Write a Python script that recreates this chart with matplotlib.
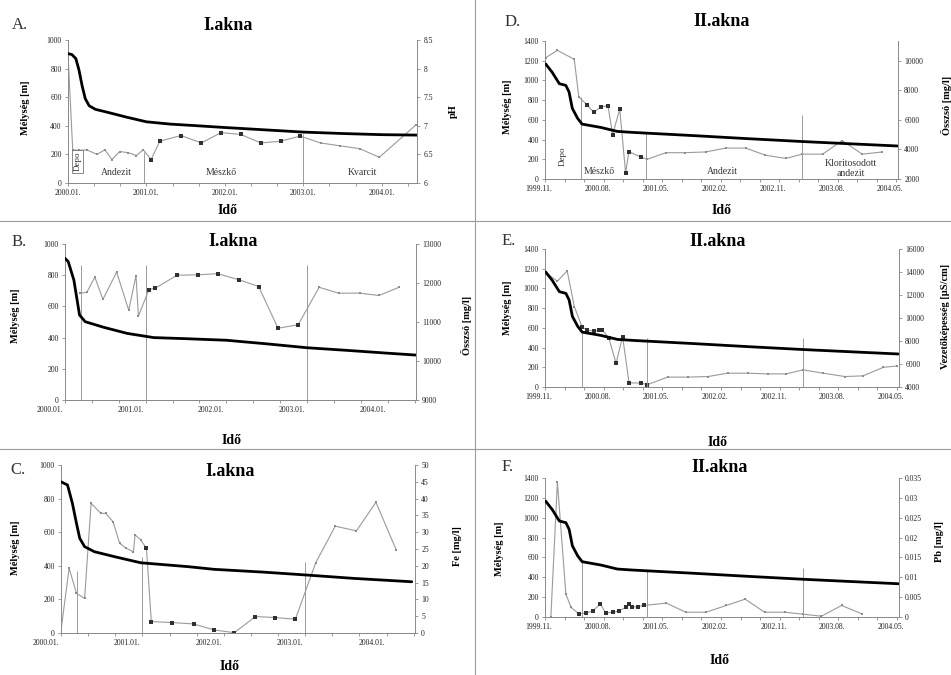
import numpy as np
import matplotlib
matplotlib.use("Agg")
import matplotlib.pyplot as plt
from matplotlib.ticker import MultipleLocator, FixedLocator, FormatStrFormatter
import matplotlib.transforms as mtrans

plt.rcParams['font.family'] = ['Liberation Serif', 'DejaVu Serif']

# ---------------- data ----------------
# I. akna (x in years)
depth_A_x = [2000.0, 2000.05, 2000.1, 2000.14, 2000.18, 2000.22, 2000.27, 2000.35, 2000.5, 2000.75,
             2001.0, 2001.3, 2001.6, 2002.0, 2002.5, 2003.0, 2003.5, 2004.0, 2004.45]
depth_A_y = [905, 898, 870, 790, 680, 590, 540, 515, 495, 460, 428, 412, 402, 388, 372, 356, 346, 338, 335]

ph_A_x = [2000.0, 2000.06, 2000.14, 2000.24, 2000.37, 2000.47, 2000.56, 2000.66, 2000.77, 2000.87, 2000.96,
          2001.06, 2001.17, 2001.44, 2001.70, 2001.95, 2002.20, 2002.46, 2002.71, 2002.96, 2003.22,
          2003.47, 2003.72, 2003.97, 2004.44]
ph_A_y = [8.25, 6.58, 6.57, 6.58, 6.5, 6.58, 6.41, 6.55, 6.53, 6.48, 6.58,
          6.41, 6.73, 6.83, 6.7, 6.88, 6.85, 6.7, 6.73, 6.82, 6.7,
          6.65, 6.6, 6.45, 7.02]

depth_B_x = [2000.0, 2000.04, 2000.11, 2000.15, 2000.18, 2000.25, 2000.48, 2000.77, 2001.1, 2001.5,
             2002.0, 2002.5, 2003.0, 2003.5, 2004.0, 2004.35]
depth_B_y = [908, 887, 769, 641, 545, 502, 466, 427, 400, 393, 383, 360, 335, 318, 300, 288]

salt_B_x = [2000.19, 2000.27, 2000.37, 2000.47, 2000.64, 2000.79, 2000.88, 2000.91, 2001.04, 2001.12,
            2001.39, 2001.65, 2001.89, 2002.16, 2002.40, 2002.64, 2002.89, 2003.15, 2003.39, 2003.65,
            2003.89, 2004.14]
salt_B_y = [11740, 11760, 12150, 11580, 12280, 11300, 12190, 11150, 11830, 11870,
            12200, 12210, 12240, 12080, 11910, 10840, 10930, 11890, 11740, 11740,
            11680, 11890]

depth_C_x = [2000.0, 2000.08, 2000.14, 2000.19, 2000.23, 2000.29, 2000.41, 2000.66, 2000.98, 2001.56,
             2001.88, 2002.5, 2003.02, 2003.6, 2004.31]
depth_C_y = [900, 881, 772, 653, 564, 514, 484, 454, 418, 395, 379, 362, 345, 325, 305]

fe_C_x = [2000.0, 2000.10, 2000.19, 2000.29, 2000.37, 2000.49, 2000.55, 2000.64, 2000.72, 2000.80,
          2000.89, 2000.91, 2000.98, 2001.05, 2001.11, 2001.37, 2001.63, 2001.88, 2002.13, 2002.39,
          2002.63, 2002.88, 2003.13, 2003.37, 2003.63, 2003.87, 2004.12]
fe_C_y = [0.8, 19.3, 11.8, 10.3, 38.6, 35.6, 35.6, 33.1, 26.7, 25.2,
          24.2, 29.2, 27.7, 25.2, 3.4, 3.1, 2.7, 0.9, 0.1, 4.9,
          4.6, 4.1, 20.9, 31.8, 30.4, 38.9, 24.7]

# II. akna (x in months since 1999.11)
depth_II_x = [0.1, 1.1, 2.2, 3.2, 3.7, 4.2, 5.0, 5.7, 8.6, 11.1, 13.4, 22.9, 31.0, 39.6, 47.0, 54.2]
depth_II_y = [1167, 1083, 967, 950, 883, 717, 617, 557, 523, 483, 473, 440, 410, 380, 357, 335]

salt_D_x = [0.1, 1.9, 4.5, 5.2, 6.5, 7.5, 8.6, 9.7, 10.4, 11.5, 12.4, 12.9, 14.7, 15.7, 18.6, 21.6,
            24.7, 27.8, 30.9, 33.9, 37.0, 39.6, 42.7, 45.7, 48.8, 51.9]
salt_D_y = [10200, 10700, 10100, 7550, 7000, 6500, 6900, 6930, 5000, 6730, 2400, 3850, 3490, 3330, 3780, 3780,
            3830, 4090, 4090, 3610, 3390, 3680, 3680, 4600, 3680, 3830]

cond_E_x = [0.1, 1.9, 3.4, 4.5, 5.7, 6.5, 7.5, 8.3, 8.8, 9.8, 10.9, 11.9, 12.9, 14.7, 15.7, 18.8,
            21.9, 25.0, 28.0, 31.1, 34.2, 37.0, 39.6, 42.7, 46.0, 48.8, 51.9, 54.0]
cond_E_y = [13950, 13200, 14100, 11000, 9200, 8970, 8830, 8920, 8970, 8240, 6050, 8390, 4350, 4350, 4200, 4860,
            4860, 4910, 5200, 5200, 5140, 5140, 5490, 5200, 4910, 4970, 5710, 5830]

pb_F_x = [0.9, 1.9, 3.2, 4.0, 5.2, 6.3, 7.3, 8.5, 9.3, 10.4, 11.4, 12.4, 12.9, 13.4, 14.2, 15.2,
          18.6, 21.6, 24.7, 27.8, 30.7, 33.7, 36.8, 39.6, 42.4, 45.5, 48.6]
pb_F_y = [0.0, 0.034, 0.0058, 0.0024, 0.0008, 0.0010, 0.0015, 0.0033, 0.0010, 0.0012, 0.0015, 0.0025,
          0.0033, 0.0025, 0.0026, 0.0029, 0.0035, 0.0012, 0.0012, 0.0029, 0.0045, 0.0012, 0.0012,
          0.0007, 0.0002, 0.0029, 0.0008]

ticks_I = [2000.0, 2001.0, 2002.0, 2003.0, 2004.0]
ticklabels_I = ["2000.01.", "2001.01.", "2002.01.", "2003.01.", "2004.01."]
ticks_II = [0, 9, 18, 27, 36, 45, 54]
ticklabels_II = ["1999.11.", "2000.08.", "2001.05.", "2002.02.", "2002.11.", "2003.08.", "2004.05."]

# ---------------- figure ----------------
W, H = 951, 675
fig = plt.figure(figsize=(W / 100, H / 100), dpi=100)

def fx(x):
    return x / W

def fy(y):
    return 1 - y / H

SPINE = '#8a8a8a'

panels = [
    dict(letter="A.", title="I.akna", rect=(68, 40, 417, 183), xlim=(2000.0, 2004.45),
         ticks=ticks_I, tlabels=ticklabels_I, toff=0.0, minor=1/3, dx=depth_A_x, dy=depth_A_y,
         sx=ph_A_x, sy=ph_A_y, ylim=(0, 1000), ystep=200, rlim=(6, 8.5), rticks=np.arange(6, 8.51, 0.5),
         rlabel="pH", dark=(2001.0, 2003.0), vl=[(2000.97, 220), (2003.0, 340)],
         ylab=(25, 108), rlab=(453, 111), titlepos=(228, 25), letterpos=(12, 25), xlab=(228, 210),
         texts=[("Andezit", 2000.62, 75, 0), ("Mészkő", 2001.95, 75, 0), ("Kvarcit", 2003.75, 75, 0)],
         depo=(2000.12, 150)),
    dict(letter="B.", title="I.akna", rect=(65, 244, 416, 400), xlim=(2000.0, 2004.35),
         ticks=ticks_I, tlabels=ticklabels_I, toff=-0.15, minor=1/3, dx=depth_B_x, dy=depth_B_y,
         sx=salt_B_x, sy=salt_B_y, ylim=(0, 1000), ystep=200, rlim=(9000, 13000),
         rticks=np.arange(9000, 13001, 1000), rlabel="Összsó [mg/l]", dark=(2001.0, 2003.0),
         vl=[(2000.2, 865), (2001.0, 865), (2003.0, 865)],
         ylab=(15, 316), rlab=(466, 325), titlepos=(233, 242), letterpos=(12, 242), xlab=(232, 440),
         texts=[], depo=None),
    dict(letter="C.", title="I.akna", rect=(61, 465, 415, 633), xlim=(2000.0, 2004.35),
         ticks=ticks_I, tlabels=ticklabels_I, toff=-0.15, minor=1/3, dx=depth_C_x, dy=depth_C_y,
         sx=fe_C_x, sy=fe_C_y, ylim=(0, 1000), ystep=200, rlim=(0, 50),
         rticks=np.arange(0, 51, 5), rlabel="Fe [mg/l]", dark=(2001.0, 2003.0),
         vl=[(2000.2, 370), (2001.0, 450), (2003.0, 420)],
         ylab=(15, 548), rlab=(457, 546), titlepos=(230, 472), letterpos=(10, 470), xlab=(230, 666),
         texts=[], depo=None),
    dict(letter="D.", title="II.akna", rect=(545, 41, 898, 179), xlim=(0, 54.3),
         ticks=ticks_II, tlabels=ticklabels_II, toff=-0.06, minor=3, dx=depth_II_x, dy=depth_II_y,
         sx=salt_D_x, sy=salt_D_y, ylim=(0, 1400), ystep=200, rlim=(2000, 2000 + 1400 * 8000 / 1200),
         rticks=np.arange(2000, 10001, 2000), rlabel="Összsó [mg/l]", dark=(5.5, 15.6),
         vl=[(5.5, 830), (15.6, 480), (39.5, 650)],
         ylab=(508, 107), rlab=(946, 105), titlepos=(722, 22), letterpos=(505, 22), xlab=(722, 210),
         texts=[("Mészkő", 8.3, 75, 0), ("Andezit", 27.3, 75, 0), ("Kloritosodott\nandezit", 47.0, 105, 0)],
         depo=(2.7, 233)),
    dict(letter="E.", title="II.akna", rect=(545, 249, 899, 387), xlim=(0, 54.3),
         ticks=ticks_II, tlabels=ticklabels_II, toff=-0.06, minor=3, dx=depth_II_x, dy=depth_II_y,
         sx=cond_E_x, sy=cond_E_y, ylim=(0, 1400), ystep=200, rlim=(4000, 16000),
         rticks=np.arange(4000, 16001, 2000), rlabel="Vezetőképesség [µS/cm]", dark=(5.6, 15.8),
         vl=[(5.7, 560), (15.7, 500), (39.6, 500)],
         ylab=(507, 308), rlab=(946, 316), titlepos=(718, 241), letterpos=(502, 241), xlab=(718, 443),
         texts=[], depo=None),
    dict(letter="F.", title="II.akna", rect=(545, 478, 899, 617), xlim=(0, 54.3),
         ticks=ticks_II, tlabels=ticklabels_II, toff=-0.06, minor=3, dx=depth_II_x, dy=depth_II_y,
         sx=pb_F_x, sy=pb_F_y, ylim=(0, 1400), ystep=200, rlim=(0, 0.035),
         rticks=np.arange(0, 0.0351, 0.005), rlabel="Pb [mg/l]", dark=(5.0, 15.8),
         vl=[(5.7, 570), (15.7, 470), (39.6, 490)],
         ylab=(500, 549), rlab=(940, 542), titlepos=(720, 467), letterpos=(502, 467), xlab=(720, 661),
         texts=[], depo=None),
]

for p in panels:
    x0, y0, x1, y1 = p["rect"]
    ax = fig.add_axes([fx(x0), fy(y1), (x1 - x0) / W, (y1 - y0) / H])
    ax2 = ax.twinx()
    ax.set_zorder(ax2.get_zorder() + 1)
    ax.patch.set_visible(False)

    # vertical section lines
    for xv, ym in p["vl"]:
        ax.vlines(xv, 0, ym, color='#9a9a9a', lw=0.7, zorder=1)

    # secondary series
    sx = np.array(p["sx"]); sy = np.array(p["sy"])
    ax2.plot(sx, sy, color='#9a9a9a', lw=0.8, zorder=2)
    lo, hi = p["dark"]
    dark = (sx >= lo) & (sx <= hi)
    ax2.scatter(sx[~dark], sy[~dark], s=3, marker='s', color='#8c8c8c', zorder=3, linewidths=0)
    ax2.scatter(sx[dark], sy[dark], s=6, marker='s', color='#303030', zorder=3, linewidths=0)

    # depth curve
    ax.plot(p["dx"], p["dy"], color='black', lw=2.0, zorder=4, solid_capstyle='round')

    ax.set_xlim(*p["xlim"])
    ax.set_ylim(*p["ylim"])
    ax2.set_ylim(*p["rlim"])
    ax.yaxis.set_major_locator(MultipleLocator(p["ystep"]))
    ax2.yaxis.set_major_locator(FixedLocator(p["rticks"]))
    ax2.yaxis.set_major_formatter(FormatStrFormatter('%g'))
    ax.xaxis.set_major_locator(FixedLocator(p["ticks"]))
    ax.set_xticklabels(p["tlabels"])
    ax.xaxis.set_minor_locator(MultipleLocator(p["minor"]))

    for a in (ax, ax2):
        a.spines['top'].set_visible(False)
        for s in ('left', 'right', 'bottom'):
            a.spines[s].set_color(SPINE)
            a.spines[s].set_linewidth(0.7)
        a.tick_params(axis='both', which='both', colors=SPINE, labelcolor='#222222',
                      labelsize=5.5, length=2.5, width=0.6, pad=2)
        a.tick_params(axis='x', which='minor', length=2)
    ax2.spines['left'].set_visible(False)
    ax.spines['right'].set_visible(False)

    if p["toff"] != 0:
        off = mtrans.ScaledTranslation(p["toff"], 0, fig.dpi_scale_trans)
        for lab in ax.get_xticklabels():
            lab.set_transform(lab.get_transform() + off)

    # texts inside
    for t, xt, yt, rot in p["texts"]:
        ax.text(xt, yt, t, fontsize=7, ha='center', va='center', color='#333333',
                rotation=rot, linespacing=1.1, zorder=5)
    if p["depo"] is not None:
        bb = dict(boxstyle='square,pad=0.15', fc='none', ec='#777777', lw=0.6) if p["letter"] == "A." else None
        ax.text(p["depo"][0], p["depo"][1], "Depo", fontsize=6.5, ha='center', va='center',
                rotation=90, color='#333333', bbox=bb, zorder=5)

    # labels
    fig.text(fx(p["titlepos"][0]), fy(p["titlepos"][1]), p["title"], fontsize=13, fontweight='bold',
             ha='center', va='center')
    fig.text(fx(p["letterpos"][0]), fy(p["letterpos"][1]), p["letter"], fontsize=12,
             ha='left', va='center', color='#333333')
    fig.text(fx(p["xlab"][0]), fy(p["xlab"][1]), "Idő", fontsize=10, fontweight='bold',
             ha='center', va='center')
    fig.text(fx(p["ylab"][0]), fy(p["ylab"][1]), "Mélység [m]", fontsize=7.5, fontweight='bold',
             ha='center', va='center', rotation=90)
    fig.text(fx(p["rlab"][0]), fy(p["rlab"][1]), p["rlabel"], fontsize=7.5, fontweight='bold',
             ha='center', va='center', rotation=90)

# separators
fig.add_artist(plt.Line2D([fx(475), fx(475)], [0, 1], color='#9a9a9a', lw=0.8))
fig.add_artist(plt.Line2D([0, 1], [fy(221), fy(221)], color='#9a9a9a', lw=0.8))
fig.add_artist(plt.Line2D([0, 1], [fy(449), fy(449)], color='#9a9a9a', lw=0.8))

fig.savefig("out.png", dpi=100)
